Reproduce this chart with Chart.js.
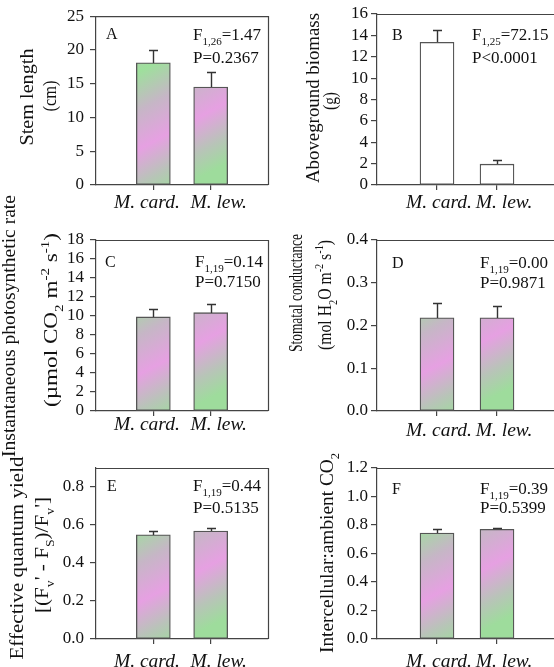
<!DOCTYPE html>
<html><head><meta charset="utf-8">
<script src="https://cdn.jsdelivr.net/npm/chart.js@4.4.1/dist/chart.umd.min.js"></script>
<style>
html,body{margin:0;padding:0;background:#fff;overflow:hidden;width:554px;height:667px;position:relative;}
canvas{position:absolute;left:0;top:0;}
</style></head><body>
<canvas id="c0" width="570" height="667"></canvas>
<canvas id="c1" width="570" height="667"></canvas>
<canvas id="c2" width="570" height="667"></canvas>
<canvas id="c3" width="570" height="667"></canvas>
<canvas id="c4" width="570" height="667"></canvas>
<canvas id="c5" width="570" height="667"></canvas>
<script>
// ---------------- DATA ----------------
const categories = ['M. card.', 'M. lew.'];
const stemLength = [18.1, 14.5],      stemLengthSE = [1.9, 2.3];
const biomass = [13.35, 1.95],        biomassSE = [1.15, 0.35];
const photoRate = [9.9, 10.35],       photoRateSE = [0.8, 0.95];
const stomatal = [0.218, 0.218],      stomatalSE = [0.035, 0.028];
const quantumYield = [0.548, 0.568],  quantumYieldSE = [0.021, 0.017];
const ciCa = [0.743, 0.770],          ciCaSE = [0.031, 0.009];

const ticksA = [0, 5, 10, 15, 20, 25];
const ticksB = [0, 2, 4, 6, 8, 10, 12, 14, 16];
const ticksC = [0, 2, 4, 6, 8, 10, 12, 14, 16, 18];
const ticksD = [0, 0.1, 0.2, 0.3, 0.4];
const ticksE = [0, 0.2, 0.4, 0.6, 0.8];
const ticksF = [0, 0.2, 0.4, 0.6, 0.8, 1.0, 1.2];

const panelLetters = ['A', 'B', 'C', 'D', 'E', 'F'];
const fStats = [['1,26', '=1.47'], ['1,25', '=72.15'], ['1,19', '=0.14'], ['1,19', '=0.00'], ['1,19', '=0.44'], ['1,19', '=0.39']];
const pStats = ['P=0.2367', 'P<0.0001', 'P=0.7150', 'P=0.9871', 'P=0.5135', 'P=0.5399'];

const S = t => ({t}), sub = t => ({t, sub: 1}), sup = t => ({t, sup: 1});
const yTitles = [
  [[S('Stem length')], [S('(cm)')]],
  [[S('Aboveground biomass')], [S('(g)')]],
  [[S('Instantaneous photosynthetic rate')], [S('(\u00b5mol CO'), sub('2'), S(' m'), sup('-2'), S(' s'), sup('-1'), S(')')]],
  [[S('Stomatal conductance')], [S('(mol H'), sub('2'), S('O m'), sup('-2'), S(' s'), sup('-1'), S(')')]],
  [[S('Effective quantum yield')], [S('[(F'), sub('v'), S("' - F"), sub('S'), S(')/F'), sub('v'), S("']")]],
  [[S('Intercellular:ambient CO'), sub('2')]]
];

// ---------------- LAYOUT / STYLE ----------------
const SERIF = '"Liberation Serif", "Times New Roman", Times, serif';
const CW = 570, CH = 667, YW = 45, XH = 30;
const panels = [
  {mean: stemLength, se: stemLengthSE, ticks: ticksA, max: 25, dec: 0, white: false,
   L: 96, T: 14, R: 268, B: 185, yPad: 6, labY: 201, labOff: [-6.5, 8],
   letterPos: [106, 33], annX: 193, annY: [34, 57],
   titlePos: [{cx: 27, cy: 97, len: 97}, {cx: 50, cy: 96, len: 31}]},
  {mean: biomass, se: biomassSE, ticks: ticksB, max: 16, dec: 0, white: true,
   L: 377, T: 14, R: 557, B: 185, yPad: 3, labY: 201.5, labOff: [2, 7],
   letterPos: [392, 34], annX: 472, annY: [34, 57],
   titlePos: [{cx: 313, cy: 98, len: 170}, {cx: 330, cy: 101, len: 18}]},
  {mean: photoRate, se: photoRateSE, ticks: ticksC, max: 18, dec: 0, white: false,
   L: 96, T: 240, R: 268, B: 411, yPad: 6, labY: 423.5, labOff: [-6.5, 8],
   letterPos: [105, 261], annX: 195, annY: [261, 281],
   titlePos: [{cx: 9, cy: 326, len: 262}, {cx: 51, cy: 320, len: 174}]},
  {mean: stomatal, se: stomatalSE, ticks: ticksD, max: 0.4, dec: 1, white: false,
   L: 377, T: 240, R: 557, B: 411, yPad: 3, labY: 429, labOff: [2, 7],
   letterPos: [392, 262], annX: 480, annY: [262, 282],
   titlePos: [{cx: 296, cy: 293, len: 118}, {cx: 325, cy: 295, len: 110}]},
  {mean: quantumYield, se: quantumYieldSE, ticks: ticksE, max: 0.9, dec: 1, white: false,
   L: 96, T: 468, R: 268, B: 639, yPad: 6, labY: 660, labOff: [-6.5, 8],
   letterPos: [107, 485], annX: 193, annY: [485, 507],
   titlePos: [{cx: 17, cy: 558, len: 203}, {cx: 42, cy: 555, len: 116}]},
  {mean: ciCa, se: ciCaSE, ticks: ticksF, max: 1.2, dec: 1, white: false,
   L: 377, T: 468, R: 557, B: 639, yPad: 3, labY: 660, labOff: [2, 7],
   letterPos: [392, 488], annX: 480, annY: [488, 507],
   titlePos: [{cx: 327, cy: 553, len: 200}]}
];

// category slots: an empty slot on each side so the two bars sit at 1/3 and 2/3
const slotLabels = ['', ...categories, ''];

function fontFor(s, size) {
  const sz = (s.sub || s.sup) ? size * 0.65 : size;
  return (s.i ? 'italic ' : '') + sz + 'px ' + SERIF;
}
function richWidth(ctx, segs, size) {
  let w = 0;
  for (const s of segs) { ctx.font = fontFor(s, size); w += ctx.measureText(s.t).width; }
  return w;
}
function drawRich(ctx, segs, x0, baseY, size) {
  let x = x0;
  for (const s of segs) {
    ctx.font = fontFor(s, size);
    const dy = s.sub ? size * 0.28 : (s.sup ? -size * 0.4 : 0);
    ctx.fillText(s.t, x, baseY + dy);
    x += ctx.measureText(s.t).width;
  }
}

function mottled(c) {
  const ch = c.chart, a = ch.chartArea;
  if (!a) return '#c8bcc8';
  const g = ch.ctx.createLinearGradient(a.left, a.top, a.left + 90, a.bottom);
  g.addColorStop(0.00, '#e89ce4');
  g.addColorStop(0.18, '#c4bac4');
  g.addColorStop(0.36, '#9ee09c');
  g.addColorStop(0.54, '#c6b6c6');
  g.addColorStop(0.72, '#e6a0e2');
  g.addColorStop(0.88, '#b8c4b8');
  g.addColorStop(1.00, '#9edc9c');
  return g;
}

function panelPlugin(p, idx) {
  return {
    id: 'panel' + idx,
    afterDatasetsDraw(chart) {
      const ctx = chart.ctx, y = chart.scales.y;
      const meta = chart.getDatasetMeta(0);
      ctx.save();
      ctx.strokeStyle = '#333'; ctx.lineWidth = 1.4;
      p.mean.forEach((m, i) => {
        const bar = meta.data[i + 1];
        const yb = Math.round(y.getPixelForValue(m));
        const yt = Math.round(y.getPixelForValue(m + p.se[i])) + 0.5;
        const x = Math.round(bar.x) + 0.5;
        ctx.beginPath();
        ctx.moveTo(x, yb); ctx.lineTo(x, yt);
        ctx.moveTo(x - 4.5, yt); ctx.lineTo(x + 4.5, yt);
        ctx.stroke();
      });
      ctx.restore();
    },
    afterDraw(chart) {
      const ctx = chart.ctx, a = chart.chartArea, xs = chart.scales.x;
      ctx.save();
      // frame top & right
      ctx.strokeStyle = '#444'; ctx.lineWidth = 1.2;
      ctx.beginPath();
      ctx.moveTo(a.left, a.top + 0.5); ctx.lineTo(a.right + 0.5, a.top + 0.5); ctx.lineTo(a.right + 0.5, a.bottom);
      ctx.stroke();
      ctx.fillStyle = '#111'; ctx.textBaseline = 'alphabetic';
      // category labels under their tick marks
      ctx.textAlign = 'center';
      ctx.font = 'italic 19.5px ' + SERIF;
      categories.forEach((c, i) => {
        ctx.fillText(c, xs.getPixelForValue(i + 1) + p.labOff[i], p.labY + 6.5);
      });
      ctx.textAlign = 'left';
      const fs = 17;
      ctx.font = '16px ' + SERIF;
      ctx.fillText(panelLetters[idx], p.letterPos[0], p.letterPos[1] + 5.5);
      drawRich(ctx, [S('F'), sub(fStats[idx][0]), S(fStats[idx][1])], p.annX, p.annY[0] + 5.8, fs);
      ctx.font = fs + 'px ' + SERIF;
      ctx.fillText(pStats[idx], p.annX, p.annY[1] + 5.8);
      const ts = 19.5;
      yTitles[idx].forEach((segs, li) => {
        const g = p.titlePos[li];
        const w = richWidth(ctx, segs, ts);
        const k = g.len / w;
        ctx.save();
        ctx.translate(g.cx, g.cy);
        ctx.rotate(-Math.PI / 2);
        ctx.scale(k, 1);
        drawRich(ctx, segs, -w / 2, ts * 0.32, ts);
        ctx.restore();
      });
      ctx.restore();
    }
  };
}

panels.forEach((p, idx) => {
  const ctx = document.getElementById('c' + idx).getContext('2d');
  new Chart(ctx, {
    type: 'bar',
    data: {
      labels: slotLabels,
      datasets: [{
        data: [null, ...p.mean, null],
        backgroundColor: p.white ? '#ffffff' : mottled,
        borderColor: '#555', borderWidth: 1.3, borderSkipped: false,
        barThickness: 34
      }]
    },
    options: {
      responsive: false, animation: false, devicePixelRatio: 1,
      layout: {padding: {left: p.L - YW, top: p.T, right: CW - p.R, bottom: CH - p.B - XH}},
      plugins: {legend: {display: false}, tooltip: {enabled: false}},
      scales: {
        x: {
          type: 'category', offset: false,
          afterFit: s => { s.height = XH; },
          ticks: {display: false, autoSkip: false, maxRotation: 0, minRotation: 0},
          grid: {drawOnChartArea: false, drawTicks: true, tickLength: 5, offset: false, lineWidth: 1.2,
                 color: '#444',
                 tickColor: c => (c.index === 1 || c.index === 2) ? '#444' : 'rgba(0,0,0,0)'},
          border: {display: true, color: '#444', width: 1.2}
        },
        y: {
          min: 0, max: p.max,
          afterBuildTicks: s => { s.ticks = p.ticks.map(v => ({value: v})); },
          afterFit: s => { s.width = YW; },
          ticks: {callback: v => Number(v).toFixed(p.dec), font: {family: SERIF, size: 17}, color: '#111',
                  padding: p.yPad, autoSkip: false},
          grid: {drawOnChartArea: false, drawTicks: true, tickLength: 6, color: '#444', lineWidth: 1.2},
          border: {display: true, color: '#444', width: 1.2}
        }
      }
    },
    plugins: [panelPlugin(p, idx)]
  });
});
</script>
</body></html>
